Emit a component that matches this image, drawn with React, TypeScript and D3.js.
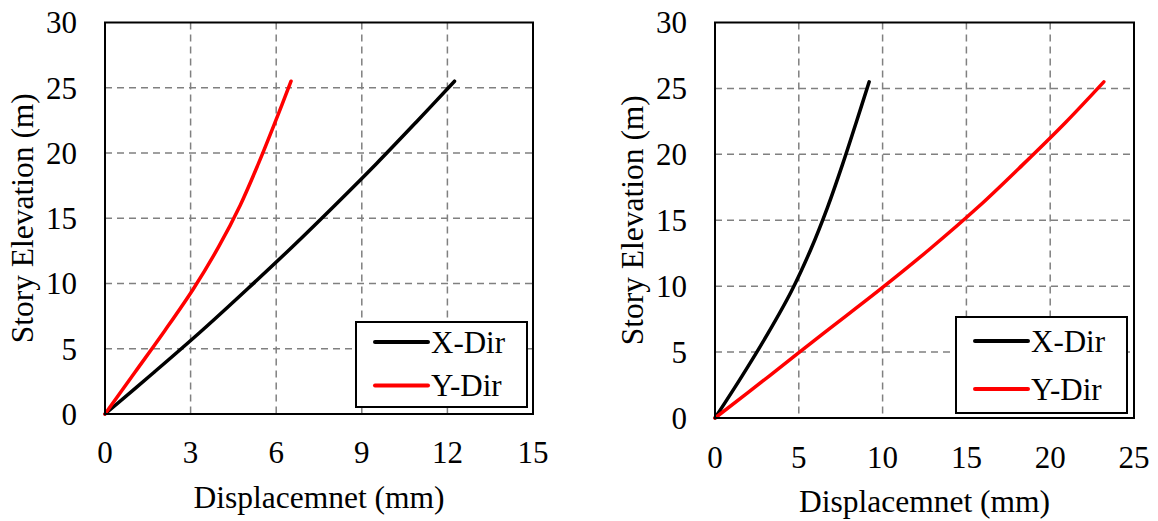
import React from 'react';
import * as d3 from 'd3';

// story elevations (m) where the displacements are read
const elevations = [0, 3.2, 6.4, 9.6, 12.8, 16, 19.2, 22.4, 25.5];

// left chart displacements (mm)
const leftXDir = [0, 1.72, 3.4, 5.0, 6.56, 8.06, 9.52, 10.92, 12.25];
const leftYDir = [0, 1.05, 2.1, 3.1, 3.98, 4.74, 5.38, 5.97, 6.52];

// right chart displacements (mm)
const rightXDir = [0, 1.62, 3.15, 4.55, 5.72, 6.72, 7.6, 8.42, 9.2];
const rightYDir = [0, 3.25, 6.45, 9.7, 12.8, 15.7, 18.35, 20.9, 23.2];

const leftXTicks = [0, 3, 6, 9, 12, 15];
const rightXTicks = [0, 5, 10, 15, 20, 25];
const yTicks = [0, 5, 10, 15, 20, 25, 30];

const seriesNames = ['X-Dir', 'Y-Dir'];
const xTitle = 'Displacemnet (mm)';
const yTitle = 'Story Elevation (m)';

const FONT = "'Liberation Serif', 'DejaVu Serif', serif";
const COLORS = ['#000000', '#ff0000'];

type Box = { left: number; right: number; top: number; bottom: number };

type ChartProps = {
  plot: Box;
  legend: Box;
  legendRows: number[];
  xTicks: number[];
  series: number[][];
  xLabelY: number;
  xTitleY: number;
};

const Chart = ({ plot, legend, legendRows, xTicks, series, xLabelY, xTitleY }: ChartProps) => {
  const x = d3
    .scaleLinear()
    .domain([xTicks[0], xTicks[xTicks.length - 1]])
    .range([plot.left, plot.right]);
  const y = d3.scaleLinear().domain([0, 30]).range([plot.bottom, plot.top]);

  const line = d3
    .line<[number, number]>()
    .x((d) => x(d[0]))
    .y((d) => y(d[1]))
    .curve(d3.curveCatmullRom.alpha(0.5));

  const midX = (plot.left + plot.right) / 2;
  const midY = (plot.top + plot.bottom) / 2;
  const titleX = plot.left - 72;

  return (
    <g fontFamily={FONT} fill="#000">
      {/* gridlines */}
      {xTicks.slice(1, -1).map((t) => (
        <line
          key={'gx' + t}
          x1={x(t)}
          x2={x(t)}
          y1={plot.top}
          y2={plot.bottom}
          stroke="#808080"
          strokeWidth={1.5}
          strokeDasharray="7 5"
        />
      ))}
      {yTicks.slice(1, -1).map((t) => (
        <line
          key={'gy' + t}
          x1={plot.left}
          x2={plot.right}
          y1={y(t)}
          y2={y(t)}
          stroke="#808080"
          strokeWidth={1.5}
          strokeDasharray="7 5"
        />
      ))}

      {/* series */}
      {series.map((vals, i) => (
        <path
          key={seriesNames[i]}
          d={line(vals.map((v, j) => [v, elevations[j]] as [number, number])) || ''}
          fill="none"
          stroke={COLORS[i]}
          strokeWidth={3.5}
          strokeLinecap="round"
        />
      ))}

      {/* plot border */}
      <rect
        x={plot.left}
        y={plot.top}
        width={plot.right - plot.left}
        height={plot.bottom - plot.top}
        fill="none"
        stroke="#000"
        strokeWidth={2}
      />

      {/* tick labels */}
      {xTicks.map((t) => (
        <text key={'xl' + t} x={x(t)} y={xLabelY} textAnchor="middle" fontSize={31}>
          {t}
        </text>
      ))}
      {yTicks.map((t) => (
        <text
          key={'yl' + t}
          x={plot.left - 28}
          y={y(t)}
          dy="0.35em"
          textAnchor="end"
          fontSize={31}
        >
          {t}
        </text>
      ))}

      {/* axis titles */}
      <text x={midX} y={xTitleY} textAnchor="middle" fontSize={31.5}>
        {xTitle}
      </text>
      <text
        transform={`translate(${titleX},${midY}) rotate(-90)`}
        textAnchor="middle"
        fontSize={31.5}
      >
        {yTitle}
      </text>

      {/* legend */}
      <rect
        x={legend.left}
        y={legend.top}
        width={legend.right - legend.left}
        height={legend.bottom - legend.top}
        fill="#fff"
        stroke="#000"
        strokeWidth={2}
      />
      {seriesNames.map((name, i) => (
        <g key={'lg' + name}>
          <line
            x1={legend.left + 19}
            x2={legend.left + 72}
            y1={legendRows[i]}
            y2={legendRows[i]}
            stroke={COLORS[i]}
            strokeWidth={4}
            strokeLinecap="round"
          />
          <text x={legend.left + 75} y={legendRows[i]} dy="0.35em" fontSize={31}>
            {name}
          </text>
        </g>
      ))}
    </g>
  );
};

const App = () => {
  return (
    <svg
      width={1158}
      height={521}
      style={{ position: 'absolute', left: 0, top: 0, background: '#fff' }}
    >
      <rect width={1158} height={521} fill="#fff" />
      <Chart
        plot={{ left: 105, right: 533, top: 22.5, bottom: 414 }}
        legend={{ left: 356, right: 527, top: 322, bottom: 407 }}
        legendRows={[342, 385.5]}
        xTicks={leftXTicks}
        series={[leftXDir, leftYDir]}
        xLabelY={463}
        xTitleY={508}
      />
      <Chart
        plot={{ left: 715, right: 1134, top: 22.5, bottom: 418 }}
        legend={{ left: 956, right: 1127, top: 317, bottom: 413 }}
        legendRows={[341, 389]}
        xTicks={rightXTicks}
        series={[rightXDir, rightYDir]}
        xLabelY={468}
        xTitleY={512}
      />
    </svg>
  );
};

export default App;
